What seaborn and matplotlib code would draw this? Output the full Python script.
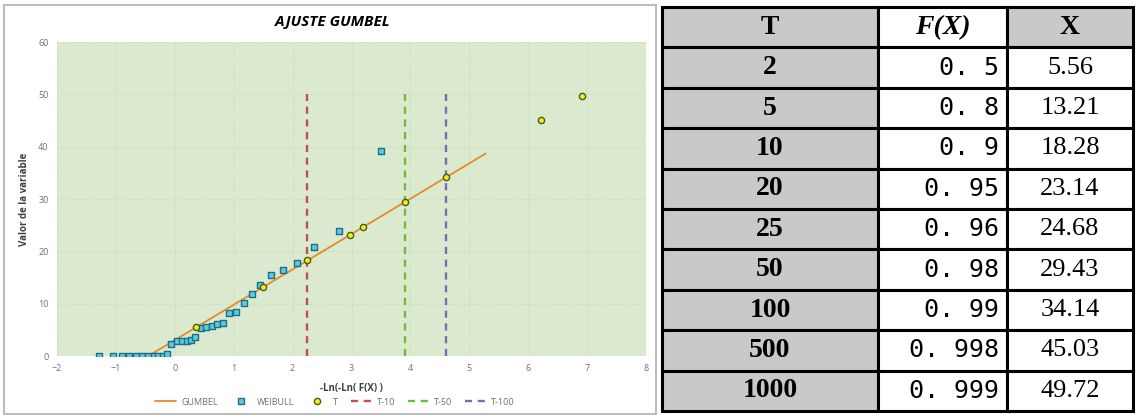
import numpy as np
import matplotlib
matplotlib.use("Agg")
import matplotlib.pyplot as plt
from matplotlib.lines import Line2D
from matplotlib.patches import Rectangle
import seaborn as sns

# Table values
return_periods = [2, 5, 10, 20, 25, 50, 100, 500, 1000]
f_x = [0.5, 0.8, 0.9, 0.95, 0.96, 0.98, 0.99, 0.998, 0.999]
x_values = [5.56, 13.21, 18.28, 23.14, 24.68, 29.43, 34.14, 45.03, 49.72]
table_header = ["T", "F(X)", "X"]

# Weibull plotting positions
weibull_u = [-1.28, -1.05, -0.90, -0.77, -0.66, -0.56, -0.45, -0.36, -0.28, -0.20,
             -0.13, -0.07, 0.04, 0.13, 0.21, 0.28, 0.35, 0.44, 0.53, 0.63, 0.72, 0.81,
             0.92, 1.04, 1.17, 1.31, 1.45, 1.63, 1.83, 2.07, 2.37, 2.78, 3.50]
weibull_val = [0, 0, 0, 0, 0, 0, 0, 0, 0, 0,
               0.3, 2.2, 2.8, 2.8, 2.8, 3.0, 3.7, 5.35, 5.5, 5.8, 6.1, 6.3,
               8.3, 8.5, 10.1, 11.8, 13.5, 15.5, 16.4, 17.8, 20.9, 23.8, 39.1]

# Gumbel fitted line (end points)
gumbel_u = [-0.45, 5.28]
gumbel_val = [0.0, 38.7]

# vertical markers for T-10, T-50, T-100
vline_names = ["T-10", "T-50", "T-100"]
vline_f = [0.9, 0.98, 0.99]
vline_top = 50
vline_colors = ["#c0504d", "#72b83e", "#7a6cb0"]

# reduced variate for the T points
t_u = -np.log(-np.log(np.array(f_x)))
vline_u = -np.log(-np.log(np.array(vline_f)))

sns.set_style("white")
plt.rcParams['font.family'] = ['Open Sans', 'DejaVu Sans']

W, H = 1136, 415
fig = plt.figure(figsize=(W / 100, H / 100), dpi=100)

# chart frame
fig.patches.append(Rectangle((4 / W, 1 / H), 652 / W, 409 / H, transform=fig.transFigure,
                             facecolor="none", edgecolor="#bdbdbd", lw=1.5, zorder=-1))

ax = fig.add_axes([57 / W, 59 / H, 589 / W, 314 / H])
ax.set_facecolor("#dbe9cf")
for s in ax.spines.values():
    s.set_visible(False)

sns.lineplot(x=gumbel_u, y=gumbel_val, color="#e8892a", lw=1.3, ax=ax, zorder=3)
for u, c in zip(vline_u, vline_colors):
    ax.vlines(u, 0, vline_top, colors=c, lw=1.7, linestyles=(0, (3, 2.4)), zorder=2)
sns.scatterplot(x=weibull_u, y=weibull_val, marker="s", s=20, color="#5ccbe2",
                edgecolor="#1d6f86", linewidth=1.0, ax=ax, zorder=4, legend=False)
sns.scatterplot(x=t_u, y=x_values, marker="o", s=20, color="#f2ee1c",
                edgecolor="#4a5a1f", linewidth=1.0, ax=ax, zorder=5, legend=False)

ax.set_xlim(-2, 8)
ax.set_ylim(0, 60)
ax.set_xticks(range(-2, 9))
ax.set_yticks(range(0, 61, 10))
ax.grid(True, color="#c2e0b0", lw=0.8, ls=":")
ax.tick_params(length=0, labelsize=6.5, labelcolor="#707070", pad=6)
ax.set_xlabel("-Ln(-Ln( F(X) )", fontsize=7, fontweight="bold", color="#404040", labelpad=7)
ax.set_ylabel("Valor de la variable", fontsize=7, fontweight="bold", color="#404040", labelpad=6)

fig.text(333 / W, 1 - 22 / H, "AJUSTE GUMBEL", ha="center", va="center",
         fontsize=11, fontweight="bold", fontstyle="italic", color="black")

handles = [
    Line2D([], [], color="#e8892a", lw=1.3),
    Line2D([], [], ls="", marker="s", ms=4.5, mfc="#5ccbe2", mec="#1d6f86", mew=1.0),
    Line2D([], [], ls="", marker="o", ms=4.5, mfc="#f2ee1c", mec="#4a5a1f", mew=1.0),
] + [Line2D([], [], color=c, lw=1.7, ls=(0, (3, 2.4))) for c in vline_colors]
labels = ["GUMBEL", "WEIBULL", "T"] + vline_names
fig.legend(handles, labels, loc="center", bbox_to_anchor=(335 / W, 1 - 402 / H), ncol=6,
           frameon=False, fontsize=6.5, labelcolor="#707070", handlelength=2.3,
           columnspacing=1.4, handletextpad=0.6)

# table
tax = fig.add_axes([662 / W, 4 / H, 471 / W, 404 / H])
tax.axis("off")
cell_text = [[str(t), str(f).replace("0.", "0. "), f"{x:.2f}"]
             for t, f, x in zip(return_periods, f_x, x_values)]
tbl = tax.table(cellText=cell_text, colLabels=table_header, bbox=[0, 0, 1, 1],
                colWidths=[216, 129, 126], cellLoc="center")
tbl.auto_set_font_size(False)
grey = "#c9c9c9"
for (r, c), cell in tbl.get_celld().items():
    cell.set_edgecolor("black")
    cell.set_linewidth(2.2)
    cell.set_facecolor(grey if (c == 0 or (r == 0 and c == 2)) else "white")
    txt = cell.get_text()
    txt.set_color("black")
    if r == 0:
        txt.set_fontfamily("Liberation Serif")
        txt.set_fontweight("bold")
        txt.set_fontsize(20)
        if c == 1:
            txt.set_fontstyle("italic")
    elif c == 0:
        txt.set_fontfamily("Liberation Serif")
        txt.set_fontweight("bold")
        txt.set_fontsize(20)
    elif c == 1:
        txt.set_fontfamily("DejaVu Sans Mono")
        txt.set_fontsize(18)
        txt.set_ha("right")
        cell.PAD = 0.06
    else:
        txt.set_fontfamily("Liberation Serif")
        txt.set_fontsize(19)

fig.savefig("out.png", dpi=100)
